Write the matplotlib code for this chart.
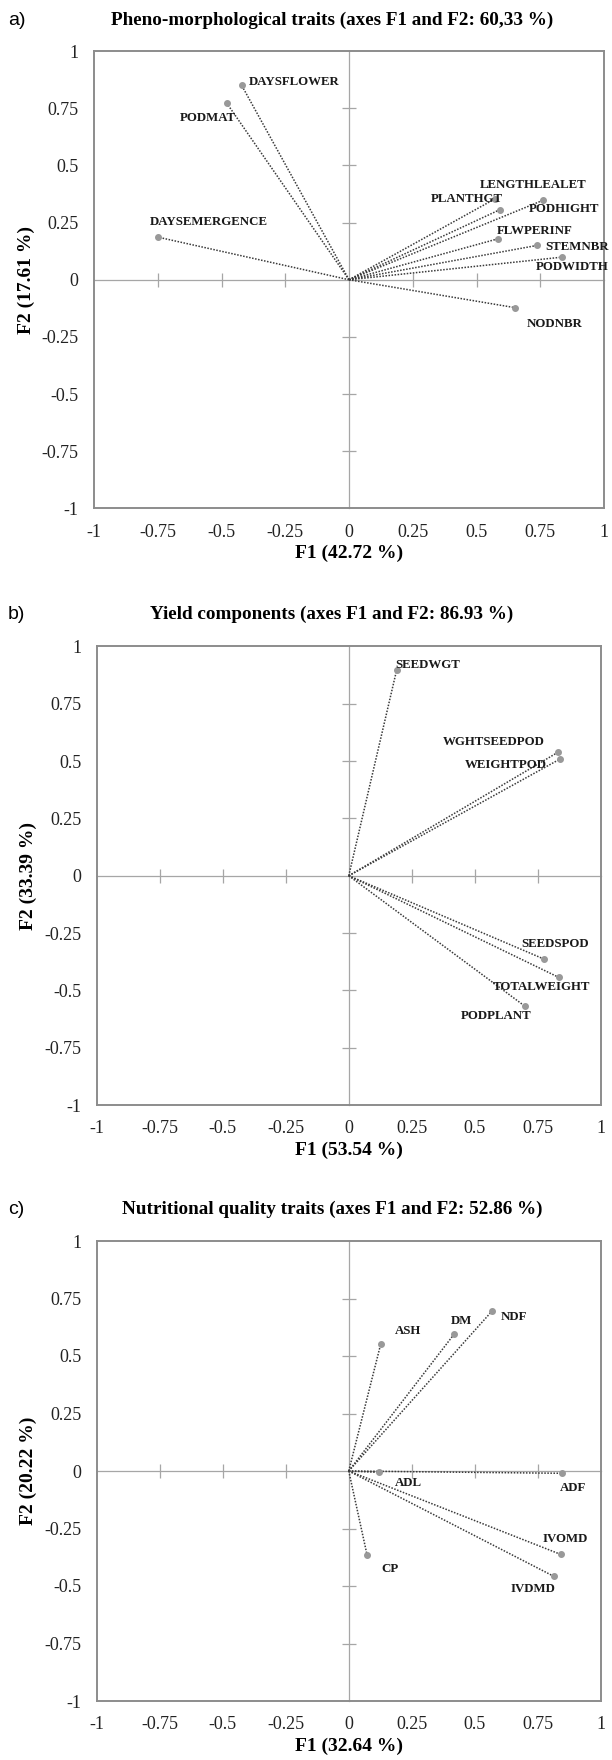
import matplotlib
matplotlib.use('Agg')
import matplotlib.pyplot as plt

plt.rcParams['font.family'] = ['Liberation Serif', 'DejaVu Serif']
plt.rcParams['axes.unicode_minus'] = False

# a) pheno-morphological traits
pheno_names = ['DAYSFLOWER', 'PODMAT', 'DAYSEMERGENCE', 'LENGTHLEALET', 'PLANTHGT',
               'PODHIGHT', 'FLWPERINF', 'STEMNBR', 'PODWIDTH', 'NODNBR']
pheno_f1 = [-0.421, -0.480, -0.748, 0.573, 0.593, 0.760, 0.584, 0.737, 0.837, 0.651]
pheno_f2 = [0.850, 0.773, 0.186, 0.354, 0.307, 0.347, 0.179, 0.150, 0.099, -0.122]

# b) yield components
yield_names = ['SEEDWGT', 'WGHTSEEDPOD', 'WEIGHTPOD', 'SEEDSPOD', 'TOTALWEIGHT', 'PODPLANT']
yield_f1 = [0.190, 0.830, 0.839, 0.773, 0.832, 0.697]
yield_f2 = [0.898, 0.539, 0.510, -0.363, -0.443, -0.568]

# c) nutritional quality traits
nutri_names = ['ASH', 'DM', 'NDF', 'ADL', 'ADF', 'IVOMD', 'IVDMD', 'CP']
nutri_f1 = [0.127, 0.417, 0.567, 0.119, 0.847, 0.841, 0.813, 0.073]
nutri_f2 = [0.553, 0.594, 0.694, -0.006, -0.010, -0.363, -0.458, -0.367]

ticks = [-1, -0.75, -0.5, -0.25, 0, 0.25, 0.5, 0.75, 1]

# label placement (pixel offset from point, alignment)
pheno_lab = [(7, 3, 'left'), (9, -15, 'right'), (-8, 15, 'left'), (-15, 14, 'left'),
             (3, 11, 'right'), (-14, -9, 'left'), (-1, 8, 'left'), (8, -2, 'left'),
             (-27, -10, 'left'), (12, -16, 'left')]
yield_lab = [(-1, 5, 'left'), (-13, 10, 'right'), (-14, -6, 'right'),
             (-22, 15, 'left'), (32, -10, 'right'), (7, -10, 'right')]
nutri_lab = [(14, 13, 'left'), (-3, 13, 'left'), (9, -6, 'left'), (16, -11, 'left'),
             (-3, -15, 'left'), (-18, 15, 'left'), (2, -13, 'right'), (14, -14, 'left')]

W, H = 612, 1760
fig = plt.figure(figsize=(W / 100, H / 100), dpi=100)


def px_rect(left, right, top, bottom):
    return [left / W, 1 - bottom / H, (right - left) / W, (bottom - top) / H]


def draw_panel(rect, names, f1, f2, labs, title, letter, title_y, xlab, ylab):
    # zero lines with ticks underneath
    zax = fig.add_axes(rect)
    zax.set_xlim(-1, 1)
    zax.set_ylim(-1, 1)
    zax.patch.set_visible(False)
    zax.spines['left'].set_position(('data', 0))
    zax.spines['bottom'].set_position(('data', 0))
    zax.spines['top'].set_visible(False)
    zax.spines['right'].set_visible(False)
    for s in ('left', 'bottom'):
        zax.spines[s].set_color('#a6a6a6')
        zax.spines[s].set_linewidth(0.9)
    inner = [t for t in ticks if t not in (-1, 0, 1)]
    zax.set_xticks(inner)
    zax.set_yticks(inner)
    zax.tick_params(direction='inout', length=10, width=0.9, color='#a6a6a6',
                    labelleft=False, labelbottom=False)

    ax = fig.add_axes(rect)
    ax.patch.set_visible(False)
    ax.set_xlim(-1, 1)
    ax.set_ylim(-1, 1)
    for s in ax.spines.values():
        s.set_color('#8c8c8c')
        s.set_linewidth(1.4)
    ax.set_xticks(ticks)
    ax.set_yticks(ticks)
    ax.set_xticklabels([f'{t:g}' for t in ticks])
    ax.set_yticklabels([f'{t:g}' for t in ticks])
    ax.tick_params(length=0, labelsize=13, pad=11, colors='#222222')
    ax.set_xlabel(xlab, fontsize=14, fontweight='bold', labelpad=3)
    ax.set_ylabel(ylab, fontsize=14, fontweight='bold', labelpad=5)

    for name, x, y, (dx, dy, ha) in zip(names, f1, f2, labs):
        ax.plot([0, x], [0, y], linestyle=(0, (1, 1)), color='#3a3a3a', linewidth=1.1, zorder=2)
        ax.plot(x, y, 'o', color='#999999', markersize=4, zorder=3)
        ax.annotate(name, (x, y), xytext=(dx, dy), textcoords='offset pixels',
                    ha=ha, va='center', fontsize=9.3, fontweight='bold',
                    color='#1a1a1a', zorder=4)

    fig.text(332 / W, 1 - title_y / H, title, ha='center', va='center',
             fontsize=13.8, fontweight='bold')
    fig.text(8 / W, 1 - title_y / H, letter, ha='left', va='center',
             fontsize=14, family='Liberation Sans')


draw_panel(px_rect(94, 604, 51, 508.5), pheno_names, pheno_f1, pheno_f2, pheno_lab,
           'Pheno-morphological traits (axes F1 and F2: 60,33 %)', 'a)', 20.5,
           'F1 (42.72 %)', 'F2 (17.61 %)')
draw_panel(px_rect(96.5, 601, 646.5, 1105), yield_names, yield_f1, yield_f2, yield_lab,
           'Yield components (axes F1 and F2: 86.93 %)', 'b)', 614.5,
           'F1 (53.54 %)', 'F2 (33.39 %)')
draw_panel(px_rect(96.5, 601, 1241, 1701), nutri_names, nutri_f1, nutri_f2, nutri_lab,
           'Nutritional quality traits (axes F1 and F2: 52.86 %)', 'c)', 1209,
           'F1 (32.64 %)', 'F2 (20.22 %)')

fig.savefig('out.png', dpi=100, facecolor='white')
